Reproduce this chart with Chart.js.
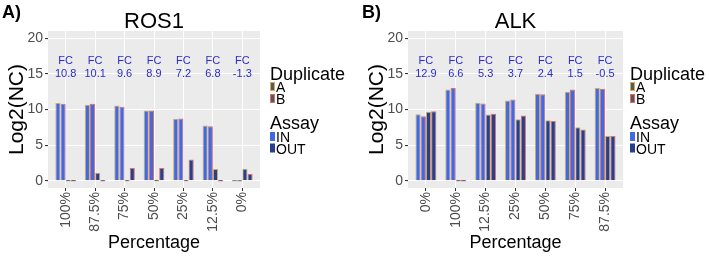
<!DOCTYPE html>
<html>
<head>
<meta charset="utf-8">
<script src="https://cdn.jsdelivr.net/npm/chart.js@4.4.0/dist/chart.umd.min.js"></script>
<style>
  body { margin: 0; background: #fff; }
  #wrap { position: relative; width: 709px; height: 256px; }
  canvas { position: absolute; top: 0; }
  #cA { left: 0; }
  #cB { left: 360px; }
</style>
</head>
<body>
<div id="wrap">
  <canvas id="cA" width="360" height="256"></canvas>
  <canvas id="cB" width="349" height="256"></canvas>
</div>
<script>
// ROS1 panel
var ros1Cats = ['100%', '87.5%', '75%', '50%', '25%', '12.5%', '0%'];
var ros1InA  = [10.9, 10.65, 10.55, 9.85, 8.7, 7.75, 0];
var ros1InB  = [10.8, 10.8, 10.4, 9.85, 8.75, 7.65, 0];
var ros1OutA = [0, 1.15, 0, 0, 0, 1.65, 1.7];
var ros1OutB = [0, 0, 1.8, 1.8, 3.0, 0, 0.95];
var ros1FC   = ['10.8', '10.1', '9.6', '8.9', '7.2', '6.8', '-1.3'];

// ALK panel
var alkCats = ['0%', '100%', '12.5%', '25%', '50%', '75%', '87.5%'];
var alkInA  = [9.35, 12.8, 10.95, 11.25, 12.2, 12.5, 13.0];
var alkInB  = [9.05, 13.0, 10.85, 11.4, 12.15, 12.8, 12.9];
var alkOutA = [9.7, 0, 9.3, 8.65, 8.5, 7.5, 6.3];
var alkOutB = [9.75, 0, 9.4, 9.15, 8.4, 7.2, 6.3];
var alkFC   = ['12.9', '6.6', '5.3', '3.7', '2.4', '1.5', '-0.5'];

var yTicks = [0, 2.5, 5, 7.5, 10, 12.5, 15, 17.5, 20];

var FONT = "'Liberation Sans', Arial, sans-serif";
var IN_COL = '#4169E1', OUT_COL = '#27408B';
var A_COL = '#CFAE5A', B_COL = '#E06C6C';
var FC_COL = '#2B2BC9';

Chart.defaults.font.family = FONT;

function panelPlugin(letter, title, fc) {
  return {
    id: 'panel',
    beforeDraw: function(chart) {
      var a = chart.chartArea, ctx = chart.ctx;
      ctx.save();
      ctx.fillStyle = '#EBEBEB';
      ctx.fillRect(a.left, a.top, a.right - a.left, a.bottom - a.top);
      ctx.restore();
    },
    afterDraw: function(chart) {
      var a = chart.chartArea, ctx = chart.ctx;
      var xs = chart.scales.x, ys = chart.scales.y;
      ctx.save();
      ctx.textBaseline = 'alphabetic';
      // panel letter
      ctx.fillStyle = '#000';
      ctx.font = 'bold 18px ' + FONT;
      ctx.textAlign = 'left';
      ctx.fillText(letter, 2, 18);
      // title
      ctx.font = '22px ' + FONT;
      ctx.textAlign = 'center';
      ctx.fillText(title, (a.left + a.right) / 2, 28);
      // FC labels
      ctx.fillStyle = FC_COL;
      ctx.font = '11px ' + FONT;
      for (var i = 0; i < fc.length; i++) {
        var x = xs.getPixelForValue(i);
        ctx.fillText('FC', x, ys.getPixelForValue(16.35));
        ctx.fillText(fc[i], x, ys.getPixelForValue(14.5));
      }
      // legend
      var lx = 270;
      ctx.textAlign = 'left';
      ctx.fillStyle = '#000';
      ctx.font = '18px ' + FONT;
      ctx.fillText('Duplicate', lx, 79.5);
      ctx.fillText('Assay', lx, 128.5);
      ctx.font = '14px ' + FONT;
      var keys = [
        { y: 82, fill: '#595959', stroke: A_COL, label: 'A' },
        { y: 94, fill: '#595959', stroke: B_COL, label: 'B' },
        { y: 132, fill: IN_COL, stroke: null, label: 'IN' },
        { y: 143.5, fill: OUT_COL, stroke: null, label: 'OUT' }
      ];
      keys.forEach(function(k) {
        ctx.fillStyle = k.fill;
        ctx.fillRect(lx, k.y, 5, 9);
        if (k.stroke) {
          ctx.strokeStyle = k.stroke;
          ctx.lineWidth = 1;
          ctx.strokeRect(lx + 0.5, k.y + 0.5, 4, 8);
        }
        ctx.fillStyle = '#000';
        ctx.fillText(k.label, lx + 6, k.y + 10);
      });
      ctx.restore();
    }
  };
}

function makeChart(id, cats, inA, inB, outA, outB, fc, letter, title, padRight) {
  var ds = function(label, data, fill, stroke) {
    return {
      label: label, data: data,
      backgroundColor: fill, borderColor: stroke, borderWidth: 1,
      categoryPercentage: 0.7, barPercentage: 1.0, minBarLength: 1.5
    };
  };
  return new Chart(document.getElementById(id), {
    type: 'bar',
    data: {
      labels: cats,
      datasets: [
        ds('IN A', inA, IN_COL, A_COL),
        ds('IN B', inB, IN_COL, B_COL),
        ds('OUT A', outA, OUT_COL, A_COL),
        ds('OUT B', outB, OUT_COL, B_COL)
      ]
    },
    options: {
      responsive: false,
      animation: false,
      devicePixelRatio: 1,
      layout: { padding: { left: 0, top: 31, right: padRight, bottom: 0 } },
      plugins: { legend: { display: false }, tooltip: { enabled: false } },
      scales: {
        x: {
          offset: true,
          grid: { offset: false, color: '#FFFFFF', lineWidth: 1, tickLength: 3, tickColor: '#333333' },
          border: { display: false },
          ticks: { autoSkip: false, minRotation: 90, maxRotation: 90, padding: 1,
                   color: '#4D4D4D', font: { size: 14 } },
          title: { display: true, text: 'Percentage', color: '#000',
                   font: { size: 18 }, padding: { top: 0, bottom: 2 } },
          afterFit: function(s) {
            s.height = 68;
            s._startValue = -0.6;
            s._valueRange = cats.length + 0.2;
          }
        },
        y: {
          min: -1, max: 21,
          afterBuildTicks: function(s) {
            s.ticks = yTicks.map(function(v) { return { value: v }; });
          },
          grid: {
            color: '#FFFFFF',
            lineWidth: function(c) { return c.tick && c.tick.value % 5 === 0 ? 1.1 : 0.5; },
            tickLength: 3,
            tickColor: function(c) { return c.tick && c.tick.value % 5 === 0 ? '#333333' : 'rgba(0,0,0,0)'; }
          },
          border: { display: false },
          ticks: {
            color: '#4D4D4D', font: { size: 14 }, padding: 2,
            callback: function(v) { return v % 5 === 0 ? v : ''; }
          },
          title: { display: true, text: 'Log2(NC)', color: '#000',
                   font: { size: 21 }, padding: { top: 5, bottom: 0 } },
          afterFit: function(s) { s.width = 48; }
        }
      }
    },
    plugins: [panelPlugin(letter, title, fc)]
  });
}

makeChart('cA', ros1Cats, ros1InA, ros1InB, ros1OutA, ros1OutB, ros1FC, 'A)', 'ROS1', 100);
makeChart('cB', alkCats, alkInA, alkInB, alkOutA, alkOutB, alkFC, 'B)', 'ALK', 86);
</script>
</body>
</html>
